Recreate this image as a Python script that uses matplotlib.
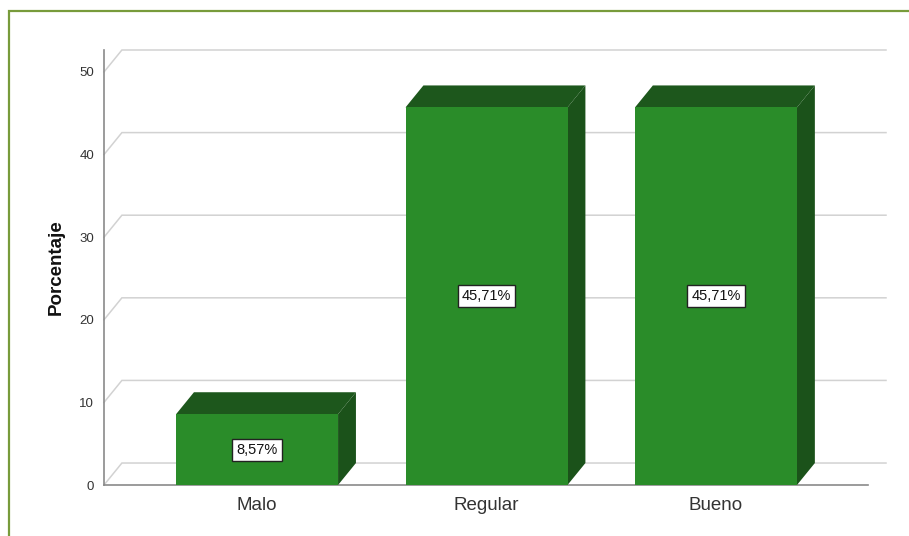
import matplotlib
matplotlib.use("Agg")
import matplotlib.pyplot as plt
from matplotlib.patches import Polygon, Rectangle

plt.rcParams['font.family'] = ['Liberation Sans', 'DejaVu Sans']
plt.rcParams['hatch.color'] = '#3a9a36'
plt.rcParams['hatch.linewidth'] = 0.4

# Datos
categorias = ['Malo', 'Regular', 'Bueno']
porcentajes = [8.57, 45.71, 45.71]
etiquetas = ['8,57%', '45,71%', '45,71%']
yticks = [0, 10, 20, 30, 40, 50]

# Colores y geometria del efecto 3D
FRONT = '#2a8c29'
SIDE = '#1b521a'
TOP = '#1d571c'
GRID = '#d2d2d2'
AXIS = '#8a8a8a'
HALF_W = 0.353     # media anchura de la barra (unidades de categoria)
DX, DY = 0.078, 2.66   # profundidad del efecto 3D
X0, X1 = -0.667, 2.741
YMAX = 52.66

fig = plt.figure(figsize=(9.09, 5.36), dpi=100)
ax = fig.add_axes([104 / 909, 51 / 536, 782 / 909, 435 / 536])
ax.set_xlim(X0, X1)
ax.set_ylim(0, YMAX)
for s in ax.spines.values():
    s.set_visible(False)

# pared del fondo: lineas de rejilla con su diagonal
for v in yticks:
    ax.plot([X0, X0 + DX, X1], [v, v + DY, v + DY], color=GRID, lw=1.1,
            zorder=1, solid_joinstyle='miter', clip_on=False)

# ejes frontales
ax.plot([X0, X0], [0, YMAX], color=AXIS, lw=1.2, zorder=2, clip_on=False)
ax.plot([X0, X1 - DX], [0, 0], color=AXIS, lw=1.2, zorder=2, clip_on=False)

# barras 3D
for i, v in enumerate(porcentajes):
    xl, xr = i - HALF_W, i + HALF_W
    ax.add_patch(Polygon([(xr, 0), (xr, v), (xr + DX, v + DY), (xr + DX, DY)],
                         closed=True, facecolor=SIDE, edgecolor='none', zorder=3))
    ax.add_patch(Polygon([(xl, v), (xr, v), (xr + DX, v + DY), (xl + DX, v + DY)],
                         closed=True, facecolor=TOP, edgecolor='none', zorder=3))
    ax.add_patch(Rectangle((xl, 0), xr - xl, v, facecolor=FRONT, edgecolor=FRONT,
                           lw=0, hatch='......', zorder=4))
    ax.text(i, v / 2, etiquetas[i], ha='center', va='center', fontsize=10.5,
            color='#111111', zorder=6,
            bbox=dict(boxstyle='square,pad=0.28', facecolor='white',
                      edgecolor='#222222', lw=1))

ax.set_yticks(yticks)
ax.set_yticklabels([str(t) for t in yticks], fontsize=9.5, color='#333333')
ax.set_xticks(range(len(categorias)))
ax.set_xticklabels(categorias, fontsize=13.5, color='#333333')
ax.tick_params(axis='y', length=0, pad=7)
ax.tick_params(axis='x', length=0, pad=9)

ax.set_ylabel('Porcentaje', fontsize=13.5, fontweight='bold', color='#111111')
ax.yaxis.set_label_coords(-0.05, 0.5)

# marco verde del panel
fig.add_artist(Rectangle((9 / 909, -0.1), 1.2, 1.1 - 11 / 536,
                         transform=fig.transFigure, facecolor='none',
                         edgecolor='#789b3b', lw=1.6, clip_on=False))

fig.savefig('out.png', dpi=100, facecolor='white')
